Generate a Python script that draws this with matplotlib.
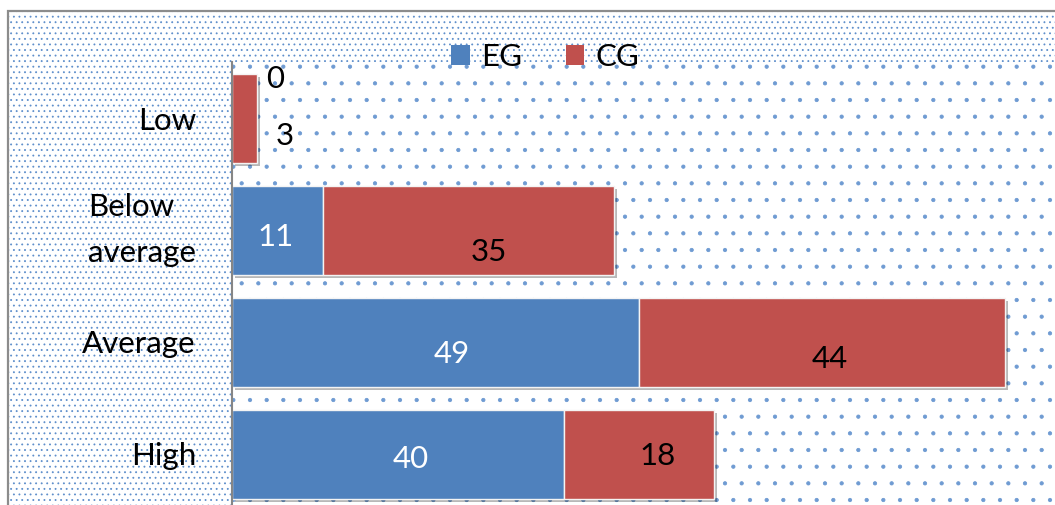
import matplotlib
matplotlib.use('Agg')
import matplotlib.pyplot as plt
from matplotlib.patches import Rectangle
import matplotlib.patheffects as pe

# ---- data ----
categories = ['Low', 'Below\naverage', 'Average', 'High']
eg_values = [0, 11, 49, 40]
cg_values = [3, 35, 44, 18]
series_names = ['EG', 'CG']

# ---- style ----
EG_COLOR = '#4F81BD'
CG_COLOR = '#C0504D'
DOT_COLOR = '#6F9BD2'
DENSE_DOT_COLOR = '#5F8FCB'
W, H = 1055, 505
FS = 22.5
plt.rcParams['font.family'] = ['Lato', 'DejaVu Sans']
plt.rcParams['hatch.linewidth'] = 0.6

# label offsets (pixels: dx right, dy down) relative to segment centre
eg_label_offsets = [(43, -41), (-2, 5), (16, 10), (13, 3)]
cg_label_offsets = [(40, 16), (20, 20), (8, 15), (18, 0)]
CAP_HALF = 11.0

fig = plt.figure(figsize=(W / 100, H / 100), dpi=100)
fig.patch.set_facecolor('white')


def fx(px):
    return px / W


def fy(py):
    return 1 - py / H


# outer chart area with dense dots
bg = Rectangle((fx(8), fy(700)), 1.2, fy(11) - fy(700), transform=fig.transFigure,
               facecolor='white', edgecolor=DENSE_DOT_COLOR, lw=0, hatch='...', zorder=-2)
fig.add_artist(bg)
border = Rectangle((fx(8), fy(700)), 1.2, fy(11) - fy(700), transform=fig.transFigure,
                   fill=False, edgecolor='#8c8c8c', lw=1.6, zorder=-1)
fig.add_artist(border)

ax_left, ax_top, ax_bottom = 232, 62, 510
ax = fig.add_axes([fx(ax_left), fy(ax_bottom), 1 - fx(ax_left), (ax_bottom - ax_top) / H])
ax.patch.set_facecolor('white')
ax.add_patch(Rectangle((0, 0), 1, 1, transform=ax.transAxes, facecolor='white',
                       edgecolor=DOT_COLOR, lw=0, hatch='.', zorder=0))

px_per_unit = 8.31
ax.set_xlim(0, (W - ax_left) / px_per_unit)
ax.set_ylim(len(categories) - 0.5, -0.5)

y = list(range(len(categories)))
shadow = [pe.SimplePatchShadow(offset=(2.2, -2.2), shadow_rgbFace='black', alpha=0.28), pe.Normal()]
bar_h = 89 / 112
ax.barh(y, eg_values, height=bar_h, color=EG_COLOR, edgecolor='#f4f4f4', lw=1,
        path_effects=shadow, zorder=2)
ax.barh(y, cg_values, left=eg_values, height=bar_h, color=CG_COLOR, edgecolor='#f4f4f4', lw=1,
        path_effects=shadow, zorder=2)

for i, (e, c) in enumerate(zip(eg_values, cg_values)):
    dx, dy = eg_label_offsets[i]
    ax.annotate(str(e), xy=(e / 2, i), xytext=(dx, -(dy + CAP_HALF)), textcoords='offset pixels',
                ha='center', va='baseline', fontsize=FS,
                color='white' if e > 0 else 'black', zorder=5)
    dx, dy = cg_label_offsets[i]
    ax.annotate(str(c), xy=(e + c / 2, i), xytext=(dx, -(dy + CAP_HALF)), textcoords='offset pixels',
                ha='center', va='baseline', fontsize=FS, color='black', zorder=5)

ax.set_yticks(y)
ax.set_yticklabels(categories)
for lbl in ax.get_yticklabels():
    lbl.set_multialignment('left')
    lbl.set_linespacing(1.75)
    if '\n' in lbl.get_text():
        lbl.set_verticalalignment('center')
ax.tick_params(axis='y', length=0, pad=26, labelsize=FS)
ax.set_xticks([])
for s in ['top', 'right', 'bottom']:
    ax.spines[s].set_visible(False)
ax.spines['left'].set_color('#868686')
ax.spines['left'].set_linewidth(1.5)
ax.spines['left'].set_zorder(6)

handles = [Rectangle((0, 0), 1, 1, facecolor=EG_COLOR), Rectangle((0, 0), 1, 1, facecolor=CG_COLOR)]
fig.legend(handles, series_names, loc='center', bbox_to_anchor=(fx(545), fy(57)), ncol=2,
           frameon=False, fontsize=FS, handlelength=0.6, handleheight=0.6,
           handletextpad=0.35, columnspacing=1.4, borderpad=0)

fig.savefig('out.png', dpi=100)
